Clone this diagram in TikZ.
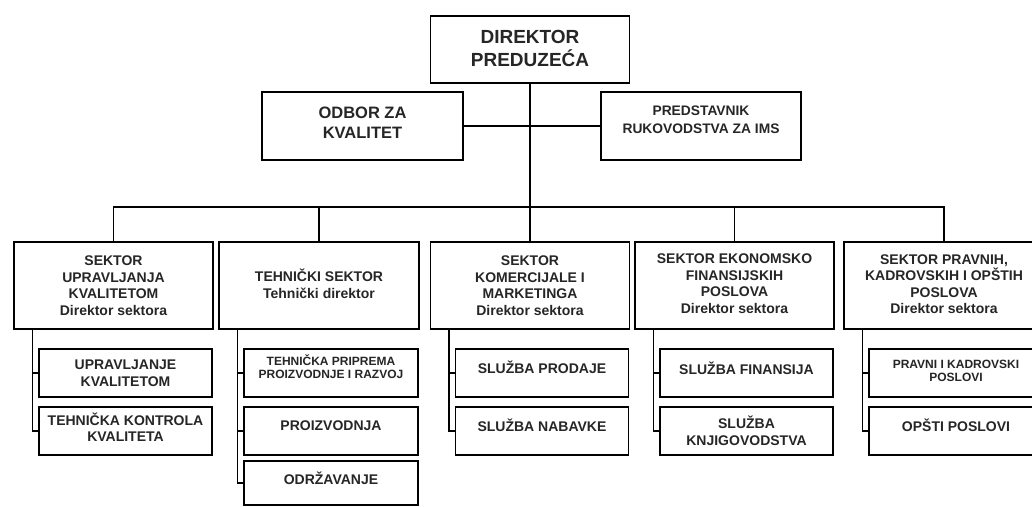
\documentclass[tikz,border=0pt]{standalone}
\usepackage{fontspec}
\setmainfont{Liberation Sans}
\begin{document}
\tikzset{
  box/.style={draw=black, line width=1.4pt, inner sep=0pt, fill=white},
  ln/.style={draw=black, line width=1.4pt},
  lbl/.style={align=center, inner sep=0pt, text=black!85},
  ttop/.style={lbl, font=\fontsize{19}{23}\selectfont\bfseries},
  todb/.style={lbl, font=\fontsize{16.5}{20}\selectfont\bfseries},
  tpred/.style={lbl, font=\fontsize{13.8}{18}\selectfont\bfseries},
  tmid/.style={lbl, font=\fontsize{14}{16.5}\selectfont\bfseries},
  tsml/.style={lbl, font=\fontsize{12}{13.5}\selectfont\bfseries},
  sec/.style={box, minimum width=199pt, minimum height=87pt},
  kid/.style={box, minimum width=173pt, minimum height=48pt},
}
\begin{tikzpicture}[x=1pt,y=-1pt]
\clip (0,0) rectangle (1032,506);
\fill[white] (0,0) rectangle (1032,506);

% top level
\node[box, minimum width=199pt, minimum height=67pt] (dir) at (530,49.5) {};
\node[ttop] (dirt) at ([yshift=1.5pt]dir.center) {DIREKTOR\\PREDUZEĆA};
\node[box, minimum width=201pt, minimum height=68pt] (odb) at (362.5,126) {};
\node[todb] (odbt) at ([yshift=3pt]odb.center) {ODBOR ZA\\KVALITET};
\node[box, minimum width=200pt, minimum height=68pt] (pred) at (701,126) {};
\node[tpred] (predt) at ([yshift=6pt]pred.center) {PREDSTAVNIK\\RUKOVODSTVA ZA IMS};

% sectors
\node[sec] (s1) at (113.5,285.5) {};
\node[tmid] (s1t) at (s1.center) {SEKTOR\\UPRAVLJANJA\\KVALITETOM\\Direktor sektora};
\node[sec, minimum width=200pt] (s2) at (319,285.5) {};
\node[tmid] (s2t) at ([yshift=1.5pt]s2.center) {TEHNIČKI SEKTOR\\Tehnički direktor};
\node[sec] (s3) at (530,285.5) {};
\node[tmid] (s3t) at (s3.center) {SEKTOR\\KOMERCIJALE I\\MARKETINGA\\Direktor sektora};
\node[sec] (s4) at (734.5,285.5) {};
\node[tmid] (s4t) at ([yshift=2pt]s4.center) {SEKTOR EKONOMSKO\\FINANSIJSKIH\\POSLOVA\\Direktor sektora};
\node[sec, minimum width=200pt] (s5) at (944,285.5) {};
\node[tmid] (s5t) at ([yshift=1.5pt]s5.center) {SEKTOR PRAVNIH,\\KADROVSKIH I OPŠTIH\\POSLOVA\\Direktor sektora};

% children
\node[kid] (c11) at (125.5,373) {};
\node[tmid] (c11t) at (c11.center) {UPRAVLJANJE\\KVALITETOM};
\node[kid] (c12) at (125.5,431) {};
\node[tmid] (c12t) at ([yshift=4pt]c12.center) {TEHNIČKA KONTROLA\\KVALITETA};

\node[kid, minimum width=174pt] (c21) at (331,373) {};
\node[tsml] (c21t) at ([yshift=6.5pt]c21.center) {TEHNIČKA PRIPREMA\\PROIZVODNJE I RAZVOJ};
\node[kid, minimum width=174pt] (c22) at (331,431) {};
\node[tmid] (c22t) at ([yshift=5.5pt]c22.center) {PROIZVODNJA};
\node[kid, minimum width=174pt, minimum height=44pt] (c23) at (331,483) {};
\node[tmid] (c23t) at ([yshift=4.5pt]c23.center) {ODRŽAVANJE};

\node[kid] (c31) at (542,373) {};
\node[tmid] (c31t) at ([yshift=6pt]c31.center) {SLUŽBA PRODAJE};
\node[kid] (c32) at (542,431) {};
\node[tmid] (c32t) at ([yshift=5.5pt]c32.center) {SLUŽBA NABAVKE};

\node[kid] (c41) at (746.5,373) {};
\node[tmid] (c41t) at ([yshift=5pt]c41.center) {SLUŽBA FINANSIJA};
\node[kid] (c42) at (746.5,431) {};
\node[tmid] (c42t) at (c42.center) {SLUŽBA\\KNJIGOVODSTVA};

\node[kid, minimum width=174pt] (c51) at (956,373) {};
\node[lbl, font=\fontsize{12}{13}\selectfont\bfseries] (c51t) at ([yshift=2pt]c51.center) {PRAVNI I KADROVSKI\\POSLOVI};
\node[kid, minimum width=174pt] (c52) at (956,431) {};
\node[tmid] (c52t) at ([yshift=6pt]c52.center) {OPŠTI POSLOVI};

% connectors, top
\draw[ln] (dir.south) -- (s3.north);
\draw[ln] (odb.east) -- (pred.west);
\coordinate (bus) at (530,207);
\draw[ln] (s1.north) -- (s1.north |- bus) -- (s5.north |- bus) -- (s5.north);
\draw[ln] (s2.north) -- (s2.north |- bus);
\draw[ln] (s4.north) -- (s4.north |- bus);

% spines
\coordinate (sp1) at ([xshift=19pt]s1.south west);
\coordinate (sp2) at ([xshift=19pt]s2.south west);
\coordinate (sp3) at ([xshift=19pt]s3.south west);
\coordinate (sp4) at ([xshift=19pt]s4.south west);
\coordinate (sp5) at ([xshift=19pt]s5.south west);
\draw[ln] (sp1) |- (c12.west);
\draw[ln] (sp1 |- c11.west) -- (c11.west);
\draw[ln] (sp2) |- (c23.west);
\draw[ln] (sp2 |- c21.west) -- (c21.west);
\draw[ln] (sp2 |- c22.west) -- (c22.west);
\draw[ln] (sp3) |- (c32.west);
\draw[ln] (sp3 |- c31.west) -- (c31.west);
\draw[ln] (sp4) |- (c42.west);
\draw[ln] (sp4 |- c41.west) -- (c41.west);
\draw[ln] (sp5) |- (c52.west);
\draw[ln] (sp5 |- c51.west) -- (c51.west);
\end{tikzpicture}
\end{document}
